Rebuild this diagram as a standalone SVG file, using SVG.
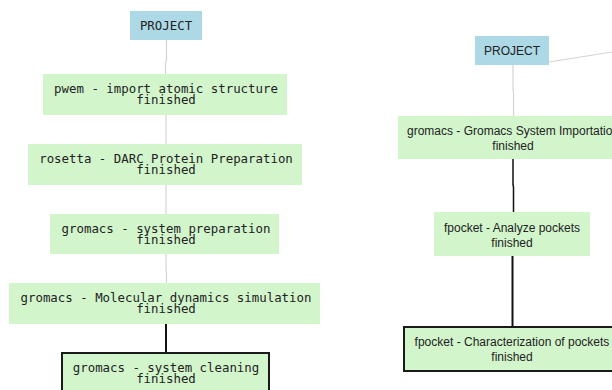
<svg xmlns="http://www.w3.org/2000/svg" width="612" height="390" viewBox="0 0 612 390">
<style>
.proj{fill:#add8e6}
.node{fill:#d2f5cc}
.sel{fill:#d2f5cc;stroke:#1a1a1a;stroke-width:2}
.mono{font-family:"DejaVu Sans Mono","Liberation Mono",monospace;font-size:12.4px;fill:#222;text-anchor:middle}
.sans{font-family:"Liberation Sans",Arial,sans-serif;font-size:12px;fill:#222;text-anchor:middle}
.lt{stroke:#d4d4d4;stroke-width:1.2;fill:none}
.dk{stroke:#111;stroke-width:1.5;fill:none}
.dk2{stroke:#111;stroke-width:2;fill:none}
</style>
<rect width="612" height="390" fill="#fff"/>
<g id="connectors">
<polyline class="lt" points="166.5,40 166.5,60 165.5,62 165.5,74"/>
<line class="lt" x1="166" y1="115" x2="166" y2="144"/>
<line class="lt" x1="166" y1="185" x2="166" y2="214"/>
<polyline class="lt" points="166,254 166,270 166.5,272 166.5,283"/>
<line class="dk2" x1="166" y1="324" x2="166" y2="352"/>
<polyline class="lt" points="513,65 513,90 513.5,92 513.5,116"/>
<line class="lt" x1="549" y1="62" x2="612" y2="52"/>
<polyline class="dk" points="513,159 513,185 513.5,187 513.5,212"/>
<line class="dk2" x1="512.5" y1="256" x2="512.5" y2="327"/>
</g>
<g id="L_project">
<rect class="proj" x="130" y="11" width="72" height="29"/>
<text class="mono" x="166" y="30">PROJECT</text>
</g>
<g id="L_pwem">
<rect class="node" x="43" y="74" width="244" height="41"/>
<text class="mono" x="166" y="92.5">pwem - import atomic structure</text>
<text class="mono" x="166" y="104">finished</text>
</g>
<g id="L_rosetta">
<rect class="node" x="28" y="144" width="274" height="41"/>
<text class="mono" x="166" y="162.5">rosetta - DARC Protein Preparation</text>
<text class="mono" x="166" y="174">finished</text>
</g>
<g id="L_prep">
<rect class="node" x="50" y="214" width="229" height="40"/>
<text class="mono" x="166" y="232.5">gromacs - system preparation</text>
<text class="mono" x="166" y="244">finished</text>
</g>
<g id="L_md">
<rect class="node" x="9" y="283" width="311" height="41"/>
<text class="mono" x="166" y="301.5">gromacs - Molecular dynamics simulation</text>
<text class="mono" x="166" y="313">finished</text>
</g>
<g id="L_clean">
<rect class="sel" x="62" y="353" width="207" height="45"/>
<text class="mono" x="166" y="371.5">gromacs - system cleaning</text>
<text class="mono" x="166" y="383">finished</text>
</g>
<g id="R_project">
<rect class="proj" x="475" y="36" width="74" height="29"/>
<text class="sans" x="512" y="55">PROJECT</text>
</g>
<g id="R_import">
<rect class="node" x="398" y="116" width="230" height="43"/>
<text class="sans" x="513" y="135">gromacs - Gromacs System Importation</text>
<text class="sans" x="513" y="150">finished</text>
</g>
<g id="R_analyze">
<rect class="node" x="434" y="212" width="156" height="44"/>
<text class="sans" x="512" y="232">fpocket - Analyze pockets</text>
<text class="sans" x="512" y="247">finished</text>
</g>
<g id="R_charac">
<rect class="sel" x="404" y="327" width="220" height="44"/>
<text class="sans" x="512" y="346">fpocket - Characterization of pockets</text>
<text class="sans" x="512" y="361">finished</text>
</g>
</svg>
